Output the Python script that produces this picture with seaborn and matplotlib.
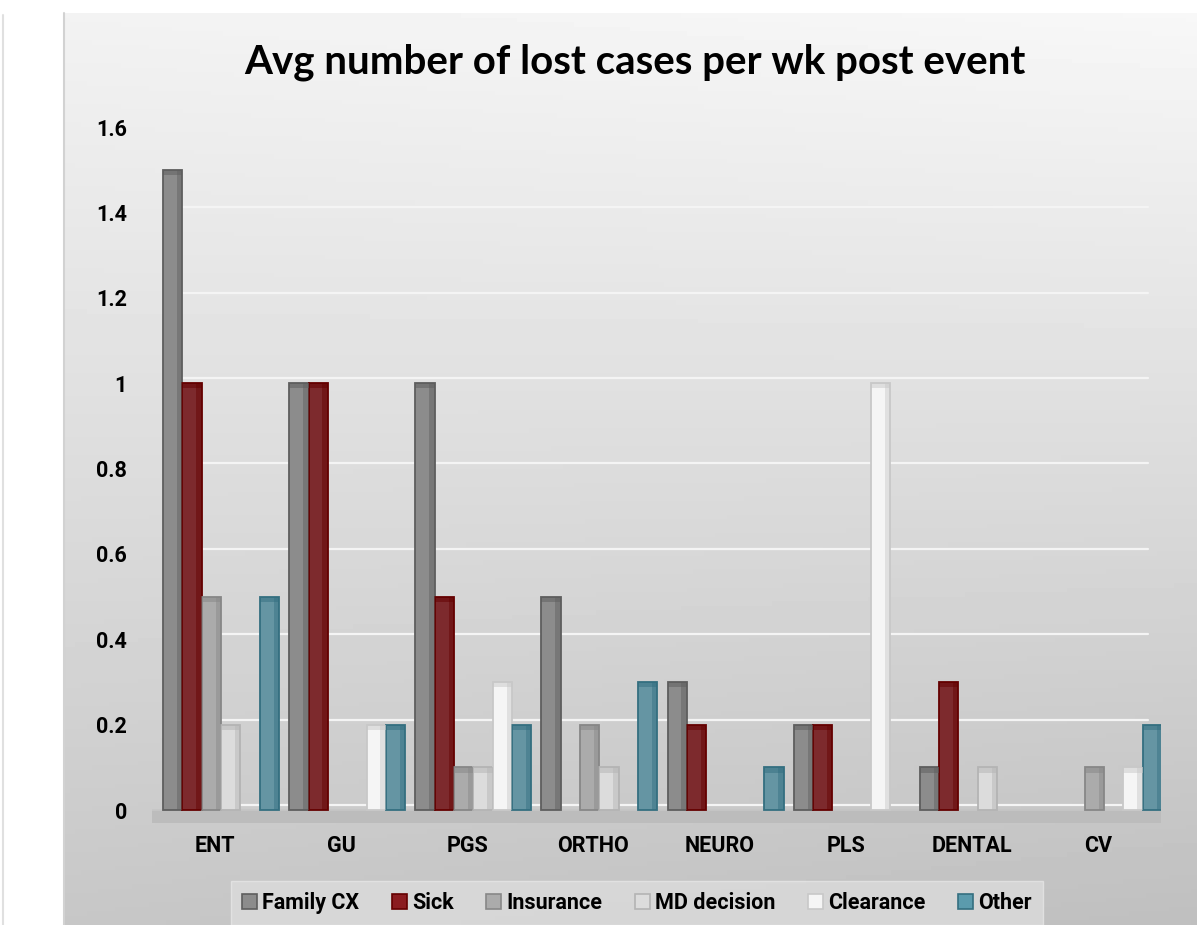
import numpy as np
import pandas as pd
import matplotlib
matplotlib.use("Agg")
import matplotlib.pyplot as plt
import matplotlib.transforms as mtransforms
import seaborn as sns
from matplotlib.patches import Rectangle

categories = ["ENT", "GU", "PGS", "ORTHO", "NEURO", "PLS", "DENTAL", "CV"]
series = ["Family CX", "Sick", "Insurance", "MD decision", "Clearance", "Other"]

family_cx = [1.5, 1.0, 1.0, 0.5, 0.3, 0.2, 0.1, 0.0]
sick = [1.0, 1.0, 0.5, 0.0, 0.2, 0.2, 0.3, 0.0]
insurance = [0.5, 0.0, 0.1, 0.2, 0.0, 0.0, 0.0, 0.1]
md_decision = [0.2, 0.0, 0.1, 0.1, 0.0, 0.0, 0.1, 0.0]
clearance = [0.0, 0.2, 0.3, 0.0, 0.0, 1.0, 0.0, 0.1]
other = [0.5, 0.2, 0.2, 0.3, 0.1, 0.0, 0.0, 0.2]

y_ticks = [0, 0.2, 0.4, 0.6, 0.8, 1.0, 1.2, 1.4, 1.6]
y_tick_labels = ["0", "0.2", "0.4", "0.6", "0.8", "1", "1.2", "1.4", "1.6"]

face = {
    "Family CX": "#8c8c8c",
    "Sick": "#8b1c20",
    "Insurance": "#ababab",
    "MD decision": "#dcdcdc",
    "Clearance": "#f5f5f5",
    "Other": "#5b9bad",
}
edge = {
    "Family CX": "#5e5e5e",
    "Sick": "#640000",
    "Insurance": "#878787",
    "MD decision": "#b4b4b4",
    "Clearance": "#c8c8c8",
    "Other": "#346f80",
}

values = [family_cx, sick, insurance, md_decision, clearance, other]
df = pd.DataFrame(
    [
        {"category": c, "series": s, "value": v}
        for s, vals in zip(series, values)
        for c, v in zip(categories, vals)
    ]
)

sns.set_theme(style="white")
plt.rcParams["font.family"] = ["Roboto", "DejaVu Sans"]
plt.rcParams["text.color"] = "black"
plt.rcParams["xtick.color"] = "black"
plt.rcParams["ytick.color"] = "black"

W, H = 1197, 925
fig = plt.figure(figsize=(W / 100, H / 100), dpi=100)
fig.patch.set_facecolor("white")

# background panel with soft gradient
bg = fig.add_axes([64 / W, 0, 1 - 64 / W, (H - 13) / H])
yy, xx = np.mgrid[0:1:200j, 0:1:200j]
grad = 0.95 - 0.17 * yy - 0.03 * xx * yy + 0.02 * xx * (1 - yy)
grad = np.clip(grad, 0, 1)
bg.imshow(grad, cmap="gray", vmin=0, vmax=1, aspect="auto", extent=[0, 1, 1, 0])
bg.set_axis_off()
fig.add_artist(plt.Line2D([3 / W, 3 / W], [0, (H - 15) / H], color="#e0e0e0", lw=1.5))
fig.add_artist(plt.Line2D([64 / W, 64 / W], [0, (H - 13) / H], color="#d2d2d2", lw=1.5))

ax = fig.add_axes([152 / W, (H - 823) / H, (1161 - 152) / W, (823 - 127) / H])
ax.set_facecolor("none")

sns.barplot(
    data=df, x="category", y="value", hue="series",
    order=categories, hue_order=series, palette=face,
    width=0.92, ax=ax, legend=False, zorder=3,
)

# small shift to the right, like the depth of the original 3d columns
shift = mtransforms.offset_copy(ax.transData, fig=fig, x=6, y=0, units="dots")
for container, s in zip(ax.containers, series):
    for bar in container:
        h = bar.get_height()
        if h <= 0:
            bar.set_visible(False)
            continue
        bar.set_transform(shift)
        bar.set_edgecolor(edge[s])
        bar.set_linewidth(1.3)
        x0, w = bar.get_x(), bar.get_width()
        ax.add_patch(Rectangle((x0 + w * 0.72, 0), w * 0.28, h, transform=shift,
                               facecolor=edge[s], alpha=0.45, lw=0, zorder=3.5))
        ax.add_patch(Rectangle((x0, h - 0.012), w, 0.012, transform=shift,
                               facecolor=edge[s], alpha=0.5, lw=0, zorder=3.5))

ax.set_ylim(-0.03, 1.6)
ax.set_xlim(-0.5, 7.5)
for t in y_ticks:
    ax.plot([-0.37, 7.4], [t + 0.012, t + 0.012], color="#f4f4f4", lw=1.6, zorder=1)
ax.axhspan(-0.03, 0.0, xmin=0.0, xmax=1.0, color="#bcbcbc", zorder=2)
ax.plot([-0.5, 7.5], [0.0, 0.0], color="#c6c6c6", lw=1.2, zorder=2)

ax.set_yticks(y_ticks)
ax.set_yticklabels(y_tick_labels)
ax.tick_params(axis="y", length=0, pad=18, labelsize=15.5)
ax.tick_params(axis="x", length=0, pad=9, labelsize=15.5)
for lab in ax.get_xticklabels() + ax.get_yticklabels():
    lab.set_fontweight("bold")
ax.set_xlabel("")
ax.set_ylabel("")
for s in ax.spines.values():
    s.set_visible(False)

fig.text(635 / W, (H - 62) / H, "Avg number of lost cases per wk post event",
         ha="center", va="center", fontsize=29, fontweight="bold",
         family=["Lato", "DejaVu Sans"], color="black")

handles = [Rectangle((0, 0), 1, 1, facecolor=face[s], edgecolor=edge[s], lw=1.2)
           for s in series]
leg = fig.legend(handles, series, loc="center", bbox_to_anchor=(637 / W, (H - 903) / H),
                 ncol=6, frameon=True, handlelength=0.7, handleheight=0.7,
                 handletextpad=0.25, columnspacing=1.5, borderpad=0.5,
                 prop={"size": 15.5, "weight": "bold"}, fancybox=False)
leg.get_frame().set_facecolor("#dcdcdc")
leg.get_frame().set_edgecolor("#e6e6e6")

fig.savefig("out.png", dpi=100)
